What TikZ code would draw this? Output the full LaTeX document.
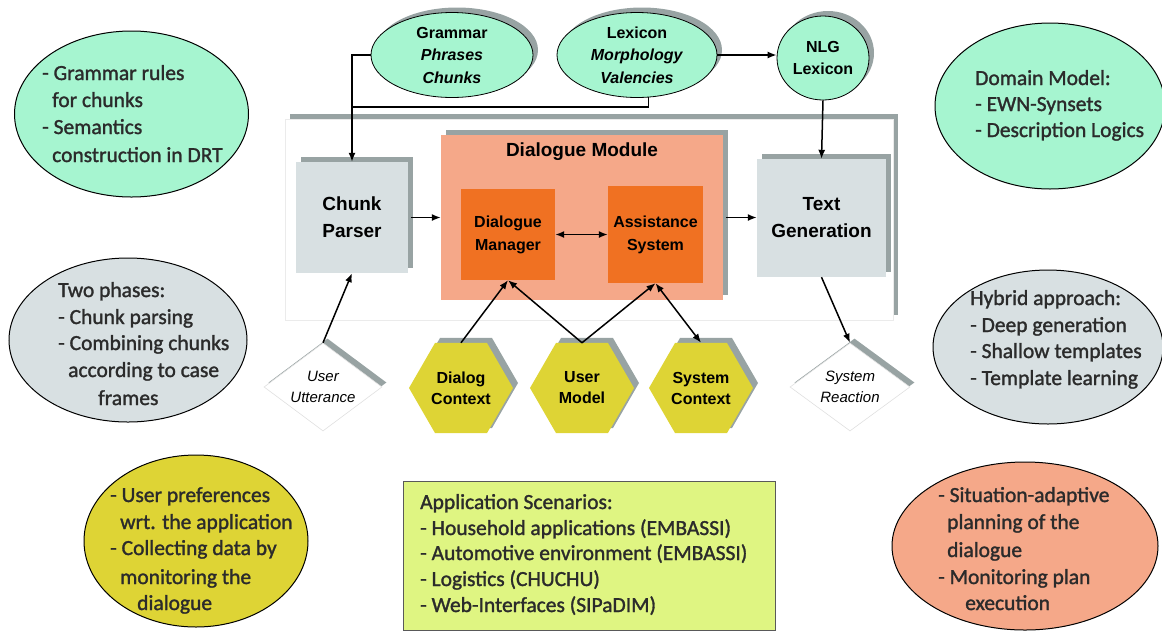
\documentclass[tikz,border=0pt]{standalone}
\usepackage{fontspec}
\setmainfont{Liberation Sans}
\newfontfamily\notefont{Carlito}[FakeBold=1.4]
\usetikzlibrary{shapes.geometric,shadows,arrows.meta}

\definecolor{mint}{HTML}{A6F5D0}
\definecolor{panelgray}{HTML}{D8E0E2}
\definecolor{shadowgray}{HTML}{98A3A3}
\definecolor{salmon}{HTML}{F5A889}
\definecolor{coreorange}{HTML}{F07122}
\definecolor{ctxyellow}{HTML}{DED435}
\definecolor{appgreen}{HTML}{DFF582}
\definecolor{notegray}{HTML}{2B2B2B}

\begin{document}
\begin{tikzpicture}[x=1pt,y=-1pt,
  shadowed/.style={general shadow={fill=shadowgray, shadow xshift=5pt, shadow yshift=5pt}},
  source/.style={ellipse, draw=black, line width=0.8pt, fill=mint, shadowed, inner sep=0pt},
  srctext/.style={font=\bfseries\fontsize{16}{22.5}\selectfont, align=center, inner sep=0pt},
  module/.style={rectangle, fill=panelgray, shadowed, inner sep=0pt},
  modtext/.style={font=\bfseries\fontsize{19}{27}\selectfont, align=center, inner sep=0pt},
  core/.style={rectangle, fill=coreorange, inner sep=0pt},
  coretext/.style={font=\bfseries\fontsize{16}{23}\selectfont, align=center, inner sep=0pt},
  ctx/.style={regular polygon, regular polygon sides=6, minimum size=104pt, fill=ctxyellow, shadowed, inner sep=0pt},
  ctxtext/.style={font=\bfseries\fontsize{16}{21}\selectfont, align=center, inner sep=0pt},
  io/.style={diamond, fill=white, draw=black!12, line width=0.6pt, inner sep=0pt,
    general shadow={fill=shadowgray, shadow xshift=4.5pt, shadow yshift=4.5pt}},
  iotext/.style={font=\itshape\fontsize{15}{21}\selectfont, align=center, inner sep=0pt},
  note/.style={ellipse, draw=black, line width=1pt, inner sep=0pt},
  notetext/.style={font=\notefont\fontsize{21.5}{26.7}\selectfont, text=notegray, inner sep=0pt, anchor=base west},
  wire/.style={line width=1.4pt},
  link/.style={line width=1.5pt, -{Latex[length=9pt,width=7pt]}},
  duplex/.style={line width=1.5pt, {Latex[length=9pt,width=7pt]}-{Latex[length=9pt,width=7pt]}}
]
\useasboundingbox (0,0) rectangle (1162,633);

% ---------- side notes ----------
\node[note, fill=mint, minimum width=234pt, minimum height=166pt] (tl) at (131.5,114) {};
\node[note, fill=panelgray, minimum width=238pt, minimum height=164pt] (ml) at (128,340) {};
\node[note, fill=ctxyellow, minimum width=224pt, minimum height=172pt] (bl) at (196,541) {};
\node[note, fill=mint, minimum width=230pt, minimum height=166pt] (tr) at (1050,106) {};
\node[note, fill=panelgray, minimum width=230pt, minimum height=154pt] (mr) at (1048,347) {};
\node[note, fill=salmon, minimum width=266pt, minimum height=168pt] (br) at (1025,546) {};

\foreach \px/\py/\txt [count=\k] in {
  42/73/{- Grammar rules}, 52/100/{for chunks}, 42/127/{- Semantics}, 52/155/{construction in DRT}}
  \node[notetext] (tl-\k) at (\px,\py+7) {\txt};
\foreach \px/\py/\txt [count=\k] in {
  58/290/{Two phases:}, 58/317/{- Chunk parsing}, 58/343/{- Combining chunks},
  68/370/{according to case}, 98/398/{frames}}
  \node[notetext] (ml-\k) at (\px,\py+7) {\txt};
\foreach \px/\py/\txt [count=\k] in {
  110/495/{- User preferences}, 120/522/{wrt. the application}, 110/548/{- Collecting data by},
  120/577/{monitoring the}, 137/603/{dialogue}}
  \node[notetext] (bl-\k) at (\px,\py+7) {\txt};
\foreach \px/\py/\txt [count=\k] in {
  975/78/{Domain Model:}, 975/104/{- EWN-Synsets}, 975/130/{- Description Logics}}
  \node[notetext] (tr-\k) at (\px,\py+7) {\txt};
\foreach \px/\py/\txt [count=\k] in {
  970/298/{Hybrid approach:}, 970/325/{- Deep generation}, 970/351/{- Shallow templates},
  970/378/{- Template learning}}
  \node[notetext] (mr-\k) at (\px,\py+7) {\txt};
\foreach \px/\py/\txt [count=\k] in {
  938/495/{- Situation-adaptive}, 947/522/{planning of the}, 947/550/{dialogue},
  938/577/{- Monitoring plan}, 965/603/{execution}}
  \node[notetext] (br-\k) at (\px,\py+7) {\txt};

% ---------- application scenarios ----------
\node[rectangle, fill=appgreen, draw=black!65, line width=0.8pt, minimum width=372pt, minimum height=149pt, inner sep=0pt] (apps) at (589,555.5) {};
\foreach \py/\txt [count=\k] in {
  502/{Application Scenarios:}, 528/{- Household applications (EMBASSI)},
  553/{- Automotive environment (EMBASSI)}, 579/{- Logistics (CHUCHU)},
  605/{- Web-Interfaces (SIPaDIM)}}
  \node[notetext] (apps-\k) at (420,\py+7) {\txt};

% ---------- system frame ----------
\node[rectangle, fill=white, draw=black!8, line width=0.8pt, minimum width=608pt, minimum height=201pt, inner sep=0pt,
  general shadow={fill=shadowgray, shadow xshift=5pt, shadow yshift=5pt}] (frame) at (589,219.5) {};

% ---------- knowledge sources ----------
\node[source, minimum width=162pt, minimum height=85pt] (gram) at (452,55) {};
\node[srctext] (gram-t) at (gram) {Grammar\\\textit{Phrases}\\\textit{Chunks}};
\node[source, minimum width=160pt, minimum height=85pt] (lex) at (637,55) {};
\node[srctext] (lex-t) at (lex) {Lexicon\\\textit{Morphology}\\\textit{Valencies}};
\node[source, minimum width=92pt, minimum height=84pt] (nlg) at (823,58) {};
\node[srctext] (nlg-t) at (nlg) {NLG\\Lexicon};

% ---------- processing modules ----------
\node[module, minimum width=112pt, minimum height=111pt] (cp) at (352,217.5) {};
\node[modtext] (cp-t) at (cp) {Chunk\\Parser};
\node[rectangle, fill=salmon, shadowed, minimum width=282pt, minimum height=165pt, inner sep=0pt] (dm) at (582,217.5) {};
\node[modtext] (dm-t) at (582,152) {Dialogue Module};
\node[core, minimum width=94pt, minimum height=91pt] (mgr) at (508,234.5) {};
\node[coretext] (mgr-t) at (mgr) {Dialogue\\Manager};
\node[core, minimum width=95pt, minimum height=97pt] (asy) at (655.5,234.5) {};
\node[coretext] (asy-t) at (asy) {Assistance\\System};
\node[module, minimum width=129pt, minimum height=118pt] (tg) at (821.5,218) {};
\node[modtext] (tg-t) at (tg) {Text\\Generation};

% ---------- input / output ----------
\node[io, minimum width=118pt, minimum height=88pt] (uu) at (323,387) {};
\node[iotext] (uu-t) at (uu) {User\\Utterance};
\node[io, minimum width=120pt, minimum height=88pt] (sr) at (850,387) {};
\node[iotext] (sr-t) at (sr) {System\\Reaction};

% ---------- context models ----------
\node[ctx] (dc) at (461,388) {};
\node[ctxtext] (dc-t) at (dc) {Dialog\\Context};
\node[ctx] (um) at (582,388) {};
\node[ctxtext] (um-t) at (um) {User\\Model};
\node[ctx] (sc) at (701,388) {};
\node[ctxtext] (sc-t) at (sc) {System\\Context};

% ---------- connectors ----------
\coordinate (merge) at (352,107);
\draw[link] (gram.west) -| (cp.north);
\draw[wire] (lex.285) |- (merge);
\draw[link] (lex.east) -- (nlg.west |- lex.east);
\draw[link] (nlg.south) -- (tg.north);
\draw[link, shorten <=3pt] (cp.east) -- (dm.west |- cp.east);
\draw[link, shorten <=3pt] (dm.east) -- (tg.west |- dm.east);
\draw[duplex] (mgr.east) -- (asy.west |- mgr.east);
\draw[link] (uu.north) -- (cp.south);
\draw[link] (dc.north) -- (mgr.south);
\draw[link] (um.north) -- (mgr.south);
\draw[link] (um.north) -- (asy.south);
\draw[duplex] (sc.north) -- (asy.south);
\draw[link] (tg.south) -- (sr.north);
\end{tikzpicture}
\end{document}
